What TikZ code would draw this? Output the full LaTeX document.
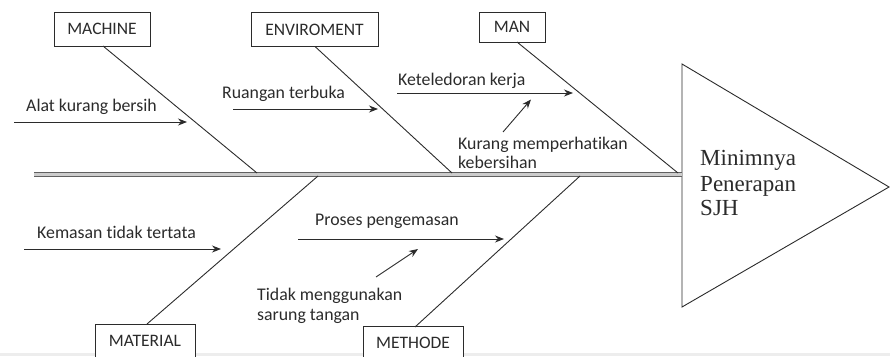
\documentclass[tikz,border=0pt]{standalone}
\usepackage{fontspec}
\setmainfont{Liberation Serif}
\setsansfont{Carlito}[Ligatures=NoCommon]
\usetikzlibrary{arrows.meta}
\definecolor{ink}{HTML}{2B2B2B}
\tikzset{
  catbox/.style={draw=ink, line width=0.9pt, fill=white, minimum height=34pt, inner sep=0pt, font=\sffamily\fontsize{17.5}{20}\selectfont, text=ink},
  bone/.style={draw=ink, line width=0.9pt},
  cause/.style={draw=ink, line width=0.9pt, -{Stealth[length=9pt,width=7pt]}},
  lbl/.style={inner sep=0pt, anchor=base west, font=\sffamily\fontsize{17.8}{20}\selectfont, text=ink},
  effect/.style={inner sep=0pt, anchor=base west, font=\rmfamily\fontsize{23}{25.5}\selectfont, text=ink}
}
\begin{document}
\begin{tikzpicture}[x=1pt,y=-1pt]
\useasboundingbox (0,0) rectangle (890,356);
% bottom grey strip
\fill[gray!14] (0,353) rectangle (890,356);

% head triangle
\coordinate (t1) at (682,64);
\coordinate (t2) at (889,187);
\coordinate (t3) at (682,307);
\draw[bone, fill=white] (t1) -- (t2) -- (t3) -- cycle;
\node[effect] (eff1) at (700,165) {Minimnya};
\node[effect] (eff2) at (700,191) {Penerapan};
\node[effect] (eff3) at (700,215.5) {SJH};

% spine
\coordinate (sp0) at (34,174.5);
\coordinate (sp1) at (682,174.5);
\draw[line width=1.2pt, draw=gray!75!black, double=gray!40, double distance=2.2pt] (sp0) -- (sp1);

% spine junctions
\coordinate (jMach) at (257,173);
\coordinate (jEnv) at (452,173);
\coordinate (jMan) at (678,173);
\coordinate (jMat) at (318,176);
\coordinate (jMet) at (580,176);

% category boxes
\node[catbox, minimum width=96pt] (mach) at (102,29) {MACHINE};
\node[catbox, minimum width=127pt] (env) at (314.5,29.5) {ENVIROMENT};
\node[catbox, minimum width=66pt, minimum height=30pt] (man) at (512,27) {MAN};
\node[catbox, minimum width=100pt] (mat) at (145,341) {MATERIAL};
\node[catbox, minimum width=100pt] (met) at (413,343) {METHODE};

% bones
\coordinate (bMach) at (103,46);
\coordinate (bEnv) at (315,46.5);
\coordinate (bMan) at (517,42);
\coordinate (bMat) at (147,324);
\coordinate (bMet) at (415,327);
\draw[bone] (bMach) -- (jMach);
\draw[bone] (bEnv) -- (jEnv);
\draw[bone] (bMan) -- (jMan);
\draw[bone] (bMat) -- (jMat);
\draw[bone] (bMet) -- (jMet);

% cause labels
\node[lbl] (c1) at (26,111) {Alat kurang bersih};
\node[lbl] (c2) at (222,98.5) {Ruangan terbuka};
\node[lbl] (c3) at (398,85.5) {Keteledoran kerja};
\node[lbl] (c4a) at (458,149) {Kurang memperhatikan};
\node[lbl] (c4b) at (458,168.5) {kebersihan};
\node[lbl] (c5) at (37,238) {Kemasan tidak tertata};
\node[lbl] (c6) at (315,225) {Proses pengemasan};
\node[lbl] (c7a) at (257,300.5) {Tidak menggunakan};
\node[lbl] (c7b) at (257,320.5) {sarung tangan};

% cause arrows
\coordinate (a1s) at (14,122);  \coordinate (a1e) at (187,122);
\coordinate (a2s) at (233,109); \coordinate (a2e) at (378,109);
\coordinate (a3s) at (397,93);  \coordinate (a3e) at (573,93);
\coordinate (a4s) at (503,132); \coordinate (a4e) at (531,99.5);
\coordinate (a5s) at (24,249);  \coordinate (a5e) at (221,249);
\coordinate (a6s) at (298,239); \coordinate (a6e) at (504,239);
\coordinate (a7s) at (376,277); \coordinate (a7e) at (418,249);
\draw[cause] (a1s) -- (a1e);
\draw[cause] (a2s) -- (a2e);
\draw[cause] (a3s) -- (a3e);
\draw[cause] (a4s) -- (a4e);
\draw[cause] (a5s) -- (a5e);
\draw[cause] (a6s) -- (a6e);
\draw[cause] (a7s) -- (a7e);
\end{tikzpicture}
\end{document}
